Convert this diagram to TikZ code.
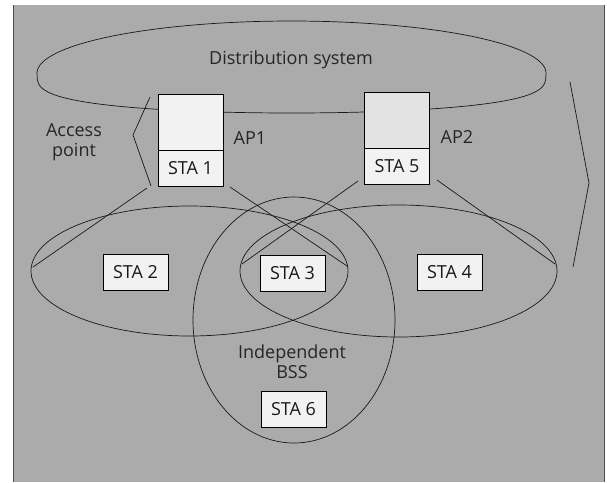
\documentclass[tikz,border=0pt]{standalone}
\usepackage{fontspec}
\setmainfont{Open Sans}
\usetikzlibrary{shapes.geometric}
\begin{document}
\begin{tikzpicture}[x=1pt,y=-1pt,
  line/.style={draw=black!90, line width=0.7pt},
  stabox/.style={draw=black, line width=0.8pt, fill=black!5, minimum width=65pt, minimum height=36pt, inner sep=0pt, font=\fontsize{18}{20}\selectfont, text=black!90},
  apbox/.style={draw=black, line width=0.8pt, fill=black!5, minimum width=65pt, minimum height=56pt, inner sep=0pt},
  lab/.style={font=\fontsize{18}{20}\selectfont, text=black!85, align=center, inner sep=0pt},
  area/.style={ellipse, draw=black!90, line width=0.7pt, inner sep=0pt}]
\useasboundingbox (0,0) rectangle (607,482);
\fill[black!33] (13,5) rectangle (604,482);
\draw[black!70, line width=0.6pt] (13,5) -- (13,482);
\draw[black!70, line width=0.6pt] (604,5) -- (604,482);

% distribution system
\draw[line] plot[domain=0:180,samples=61] ({291.5+254.5*cos(\x)},{73-52*sin(\x)})
  -- plot[domain=180:360,samples=61] ({291.5+254.5*cos(\x)},{73+40*(abs(sin(\x))+0.0001)^0.6}) -- cycle;
\node[lab] (ds) at (291,60) {Distribution system};

% BSS areas
\node[area, minimum width=317pt, minimum height=130pt] (bssL) at (189.5,271) {};
\node[area, minimum width=317pt, minimum height=132pt] (bssR) at (398.5,271) {};
\node[area, minimum width=202pt, minimum height=246pt] (ibss) at (294,320) {};

% coverage lines
\coordinate (c1a) at (147,188); \coordinate (c1b) at (33,267);
\coordinate (c2a) at (230,187); \coordinate (c2b) at (347,266);
\coordinate (c3a) at (358,181); \coordinate (c3b) at (242,264);
\coordinate (c4a) at (437,180); \coordinate (c4b) at (555,264);
\draw[line] (c1a) -- (c1b);
\draw[line] (c2a) -- (c2b);
\draw[line] (c3a) -- (c3b);
\draw[line] (c4a) -- (c4b);

% brackets
\coordinate (b1) at (150,97); \coordinate (b2) at (133,135); \coordinate (b3) at (151,186);
\draw[line] (b1) -- (b2) -- (b3);
\coordinate (r1) at (570,82); \coordinate (r2) at (589,183); \coordinate (r3) at (573,267);
\draw[line] (r1) -- (r2) -- (r3);

% access points
\node[apbox] (ap1) at (190.5,122) {};
\node[stabox] (sta1) at (190.5,168) {STA 1};
\node[apbox, fill=black!11] (ap2) at (397,120.5) {};
\node[stabox] (sta5) at (397,166.5) {STA 5};
\node[lab] (ap1l) at (250,138) {AP1};
\node[lab] (ap2l) at (457,137) {AP2};
\node[lab] (apl) at (74,142) {Access\\point};

% stations
\node[stabox] (sta2) at (135.5,272.5) {STA 2};
\node[stabox] (sta3) at (292.5,273) {STA 3};
\node[stabox] (sta4) at (449.5,272) {STA 4};
\node[stabox] (sta6) at (293.5,409.5) {STA 6};
\node[lab] (ib) at (292,362) {Independent\\BSS};
\end{tikzpicture}
\end{document}
